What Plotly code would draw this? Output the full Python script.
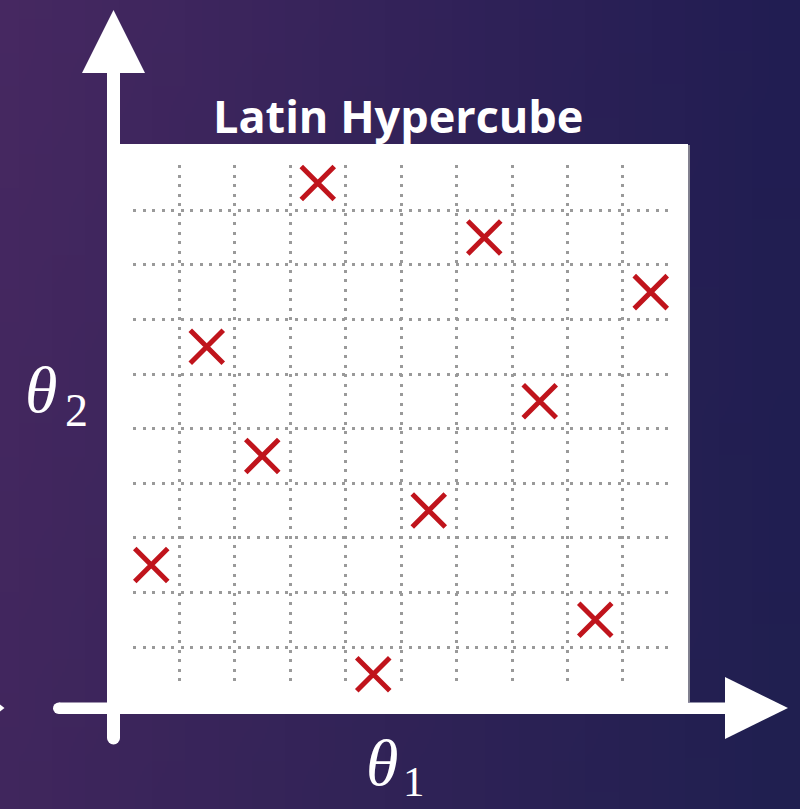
import base64
import struct
import zlib

import plotly.graph_objects as go

# ---------------- data ----------------
theta1 = [3.5, 6.5, 9.5, 1.5, 7.5, 2.5, 5.5, 0.5, 8.5, 4.5]
theta2 = [9.5, 8.5, 7.5, 6.5, 5.5, 4.5, 3.5, 2.5, 1.5, 0.5]
grid_vals = [1, 2, 3, 4, 5, 6, 7, 8, 9]
title_text = "Latin Hypercube"
theta_symbol = "θ"
x_label_sub = "1"
y_label_sub = "2"

# ---------------- layout geometry ----------------
W, H = 800, 809
L, R, T, B = 133, 132, 165, 121
PW, PH = W - L - R, H - T - B


def px(x):
    return (x - L) / PW


def py(y):
    return (H - B - y) / PH


# ---------------- gradient background as tiny PNG ----------------
def gradient_png(w, h, tl, tr, bl, br):
    rows = []
    for j in range(h):
        v = j / (h - 1)
        row = bytearray([0])
        for i in range(w):
            u = i / (w - 1)
            for c in range(3):
                top = tl[c] * (1 - u) + tr[c] * u
                bot = bl[c] * (1 - u) + br[c] * u
                row.append(int(round(top * (1 - v) + bot * v)))
        rows.append(bytes(row))
    raw = b"".join(rows)

    def chunk(tag, data):
        c = struct.pack(">I", len(data)) + tag + data
        return c + struct.pack(">I", zlib.crc32(tag + data) & 0xFFFFFFFF)

    png = b"\x89PNG\r\n\x1a\n"
    png += chunk(b"IHDR", struct.pack(">IIBBBBB", w, h, 8, 2, 0, 0, 0))
    png += chunk(b"IDAT", zlib.compress(raw, 9))
    png += chunk(b"IEND", b"")
    return "data:image/png;base64," + base64.b64encode(png).decode()


bg_uri = gradient_png(24, 24, (70, 40, 97), (33, 29, 82), (64, 38, 93), (32, 31, 80))

fig = go.Figure()

fig.add_trace(
    go.Scatter(
        x=theta1,
        y=theta2,
        mode="markers",
        marker=dict(
            symbol="x-thin",
            size=33,
            color="#c0141c",
            line=dict(color="#c0141c", width=5),
        ),
        cliponaxis=False,
        hoverinfo="skip",
        showlegend=False,
    )
)

WHITE = "#ffffff"
shapes = []
# white panel
shapes.append(dict(type="rect", xref="paper", yref="paper",
                   x0=px(119), x1=px(688), y0=py(708), y1=py(144),
                   fillcolor=WHITE, line=dict(width=0), layer="below"))
# faint shadow on the panel's right edge
shapes.append(dict(type="line", xref="paper", yref="paper",
                   x0=px(689), x1=px(689), y0=py(702), y1=py(145),
                   line=dict(color="rgba(170,170,170,0.7)", width=2), layer="below"))
# vertical arrow shaft
shapes.append(dict(type="rect", xref="paper", yref="paper",
                   x0=px(107), x1=px(120), y0=py(738), y1=py(72),
                   fillcolor=WHITE, line=dict(width=0), layer="below"))
shapes.append(dict(type="circle", xref="paper", yref="paper",
                   x0=px(107), x1=px(120), y0=py(744.5), y1=py(731.5),
                   fillcolor=WHITE, line=dict(width=0), layer="below"))
# vertical arrow head
shapes.append(dict(type="path", xref="paper", yref="paper",
                   path=f"M{px(82)},{py(73)} L{px(145)},{py(73)} L{px(113.5)},{py(10)} Z",
                   fillcolor=WHITE, line=dict(width=0), layer="below"))
# horizontal arrow shaft
shapes.append(dict(type="rect", xref="paper", yref="paper",
                   x0=px(59), x1=px(727), y0=py(714), y1=py(702.5),
                   fillcolor=WHITE, line=dict(width=0), layer="below"))
shapes.append(dict(type="circle", xref="paper", yref="paper",
                   x0=px(53), x1=px(64.5), y0=py(714), y1=py(702.5),
                   fillcolor=WHITE, line=dict(width=0), layer="below"))
# horizontal arrow head
shapes.append(dict(type="path", xref="paper", yref="paper",
                   path=f"M{px(725)},{py(677)} L{px(725)},{py(739)} L{px(788)},{py(708)} Z",
                   fillcolor=WHITE, line=dict(width=0), layer="below"))
# tiny partial arrow at the left edge
shapes.append(dict(type="path", xref="paper", yref="paper",
                   path=f"M{px(-2)},{py(703)} L{px(4.5)},{py(708)} L{px(-2)},{py(713)} Z",
                   fillcolor=WHITE, line=dict(width=0), layer="below"))


def ann(text, x, y, family, size):
    return dict(text=text, xref="paper", yref="paper",
                x=px(x), y=py(y), xanchor="center", yanchor="middle",
                showarrow=False, font=dict(family=family, size=size, color=WHITE))


annotations = [
    ann(f"<b>{title_text}</b>", 398, 116, "Open Sans", 45),
    ann(f"<i>{theta_symbol}</i>", 41, 389, "Liberation Serif", 66),
    ann(y_label_sub, 76.5, 410, "Liberation Serif", 46),
    ann(f"<i>{theta_symbol}</i>", 381.5, 762, "Liberation Serif", 66),
    ann(x_label_sub, 414, 781, "Liberation Serif", 43),
]

axis_common = dict(
    tickvals=grid_vals,
    showticklabels=False,
    ticks="",
    showgrid=True,
    gridcolor="#9a9a9a",
    gridwidth=3,
    griddash="3px,6.5px",
    zeroline=False,
    showline=False,
    fixedrange=True,
)

fig.update_layout(
    width=W,
    height=H,
    margin=dict(l=L, r=R, t=T, b=B, pad=0),
    autosize=False,
    paper_bgcolor="#33214f",
    plot_bgcolor="rgba(0,0,0,0)",
    xaxis=dict(range=[0.171, 9.811], **axis_common),
    yaxis=dict(range=[0.249, 9.828], **axis_common),
    shapes=shapes,
    annotations=annotations,
    images=[dict(source=bg_uri, xref="paper", yref="paper",
                 x=px(0), y=py(0), sizex=W / PW, sizey=H / PH,
                 xanchor="left", yanchor="top", sizing="stretch",
                 layer="below")],
    showlegend=False,
)

fig.write_html(
    "out.html",
    config={"displayModeBar": False},
    post_script="document.body.style.margin='0px';document.body.style.overflow='hidden';",
)
